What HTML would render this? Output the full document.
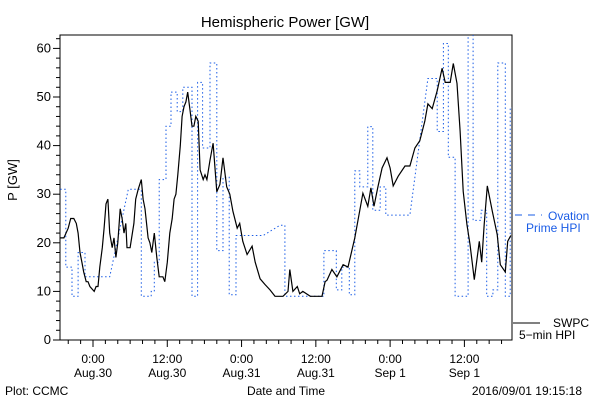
<!DOCTYPE html>
<html><head><meta charset="utf-8"><style>
html,body{margin:0;padding:0;background:#fff;}
svg{display:block;font-family:"Liberation Sans",sans-serif;}
</style></head><body>
<svg id="chart" width="600" height="400" viewBox="0 0 600 400" xmlns="http://www.w3.org/2000/svg">
<rect width="600" height="400" fill="#fff"/>
<text x="285" y="27" font-size="15" text-anchor="middle">Hemispheric Power [GW]</text>
<text x="0" y="0" font-size="13" text-anchor="middle" transform="translate(17,180) rotate(-90)">P [GW]</text>
<text x="286" y="395" font-size="12" text-anchor="middle">Date and Time</text>
<text x="5" y="395" font-size="12">Plot: CCMC</text>
<text x="582" y="395" font-size="12" text-anchor="end">2016/09/01 19:15:18</text>
<g>
<line x1="515" y1="215" x2="542" y2="215" stroke="#1a5ce6" stroke-width="1" stroke-dasharray="7,6"/>
<text x="548" y="220" font-size="12" fill="#1a5ce6">Ovation</text>
<text x="526" y="232" font-size="12" fill="#1a5ce6">Prime HPI</text>
</g>
<g>
<line x1="513" y1="323" x2="540" y2="323" stroke="#000" stroke-width="1"/>
<text x="553" y="327" font-size="12">SWPC</text>
<text x="519" y="339" font-size="12">5−min HPI</text>
</g>
<g id="axes"></g>
<g id="series"></g>
</svg>
<script>
const yTicks = [0,10,20,30,40,50,60];
const xTickHours = [0,12,24,36,48,60];
const xTickTimes = ["0:00","12:00","0:00","12:00","0:00","12:00"];
const xTickDates = ["Aug.30","Aug.30","Aug.31","Aug.31","Sep 1","Sep 1"];
const swpcHours = [-5.3,-4.7,-4.0,-3.6,-3.1,-2.7,-2.4,-2.1,-1.8,-1.5,-1.1,-0.8,-0.5,0.2,0.5,0.8,1.1,1.5,1.8,2.1,2.4,2.7,3.1,3.4,3.7,4.0,4.4,4.7,5.0,5.3,5.5,6.0,6.6,6.9,7.3,7.8,8.1,8.4,8.9,9.2,9.5,9.9,10.3,10.7,11.3,11.6,12.0,12.4,12.8,13.1,13.4,13.7,14.1,14.4,14.7,15.0,15.3,15.7,16.0,16.3,16.6,17.0,17.3,17.8,18.1,18.4,18.9,19.4,20.0,20.5,21.0,21.6,22.1,22.6,23.3,23.7,24.2,24.9,25.7,26.2,27.0,27.8,28.6,29.4,30.7,31.5,31.8,32.3,33.0,33.4,33.9,35.1,37.0,37.5,37.8,38.6,39.4,40.4,41.2,42.3,43.6,44.4,44.9,45.4,46.0,46.7,47.5,48.0,48.5,49.3,50.4,51.2,52.0,52.8,53.6,54.1,54.8,55.6,56.4,56.9,57.7,58.2,58.8,59.3,59.8,60.4,60.9,61.6,62.4,62.8,63.2,63.7,64.5,65.3,65.8,66.6,67.0,67.5];
const swpcValues = [21,21,23,25,25,24,22,18,16,14,12,12,11,10,11,11,15,19,23,28,29,22,19,21,17,20,27,25,22,24,19,19,24,29,31,33,29,27,21,20,18,22,17,13,13,12,16,22,25,29,30,34,40,46,48,49,51,47,44,44,46,45,35,33,34,33,37,40.5,30.5,32,37.5,31.5,30,26.5,23,24,20.3,17.6,19.3,16,12.6,11.4,10.3,9,9,10,14.5,10,11,9.5,10,9,9,12,12.3,14.5,13,15.5,15,21,30.2,27.5,31.3,27.5,31.3,35.4,37.5,35.4,31.7,33.7,35.8,35.8,39.5,41,45,48.6,47.6,51.3,55.9,53,53,56.9,52.8,43,30.6,23.8,19.7,12.4,20.3,16,23.8,31.7,26.5,21.7,15.5,14,20.3,21.5];
const ovationHours = [-5.3,-4.4,-4.4,-3.4,-3.4,-2.4,-2.4,-1.3,-1.3,2.7,5.7,5.7,7.8,7.8,9.4,9.4,9.9,9.9,10.7,10.7,11.8,11.8,12.6,12.6,13.6,13.6,14.5,14.5,16.0,16.0,16.9,16.9,17.7,17.7,18.9,18.9,20.0,20.0,21.0,21.0,22.0,22.0,23.1,23.1,27.5,30.2,31.0,31.0,37.3,37.3,39.3,39.3,40.2,40.2,41.4,41.4,42.3,42.3,43.1,43.1,44.4,44.4,45.2,45.2,46.4,46.4,47.3,47.3,51.2,54.1,55.6,55.6,56.6,56.6,57.4,57.4,58.5,58.5,60.6,60.6,61.4,61.4,62.7,62.7,63.6,63.6,64.6,64.6,65.4,65.4,66.6,66.6,67.4,67.4,67.8];
const ovationValues = [31,31,15,15,9,9,18,18,13,13,31,31,31,9,9,10,10,16,16,33,33,44,44,51,51,47,47,52,52,9,9,53,53,39.5,39.5,57,57,18.4,18.4,33.5,33.5,9.3,9.3,21.5,21.5,23.6,23.6,9,9,18.4,18.4,10.3,10.3,15,15,9.3,9.3,34.8,34.8,31.5,31.5,43.9,43.9,26.7,26.7,31.5,31.5,25.7,25.7,53.8,53.8,42.9,42.9,61,61,37.6,37.6,9,9,66,66,24.6,24.6,26.7,26.7,9,9,10.3,10.3,57,57,9,9,47.8,47.8];

const L=60,R=512,T=35,B=340;
const xOf = h => 93 + 6.19*h;
const yOf = v => B - 4.86*v;
const NS="http://www.w3.org/2000/svg";
const svg=document.getElementById('chart');
const axes=document.getElementById('axes');
const series=document.getElementById('series');
function mk(tag, attrs, parent){const e=document.createElementNS(NS,tag);for(const k in attrs)e.setAttribute(k,attrs[k]);parent.appendChild(e);return e;}

// clip
const defs=mk('defs',{},svg);
const cp=mk('clipPath',{id:'plotclip'},defs);
mk('rect',{x:L,y:T,width:R-L,height:B-T},cp);

const frame=mk('rect',{x:L,y:T,width:R-L,height:B-T,fill:'none',stroke:'#000','stroke-width':1},axes);



// y minor ticks
for(let v=0; v<=62; v+=2){
  const y=yOf(v);
  const major = v%10===0;
  const t=mk('line',{x1:L-(major?7:4),y1:y,x2:L,y2:y,stroke:'#000','stroke-width':1},axes);
  
  
}
yTicks.forEach(v=>{
  const t=mk('text',{x:L-9,y:yOf(v)+4,'font-size':13,'text-anchor':'end'},axes);
  t.textContent=v;
  
  
});
// x ticks every 2h
for(let h=-4; h<=66; h+=2){
  const x=xOf(h);
  if(x<L||x>R) continue;
  const major = h%12===0;
  const t=mk('line',{x1:x,y1:B,x2:x,y2:B+(major?7:4),stroke:'#000','stroke-width':1},axes);
  
  
}
xTickHours.forEach((h,i)=>{
  const a=mk('text',{x:xOf(h),y:363,'font-size':12,'text-anchor':'middle'},axes);
  a.textContent=xTickTimes[i];
  
  
  const b=mk('text',{x:xOf(h),y:377,'font-size':12,'text-anchor':'middle'},axes);
  b.textContent=xTickDates[i];
  
  
});

const g=mk('g',{'clip-path':'url(#plotclip)'},series);
const ov=mk('polyline',{points:ovationHours.map((h,i)=>xOf(h).toFixed(1)+','+yOf(ovationValues[i]).toFixed(1)).join(' '),fill:'none',stroke:'#1a5ce6','stroke-width':1,'stroke-dasharray':'1.5,2.5'},g);


const sw=mk('polyline',{points:swpcHours.map((h,i)=>xOf(h).toFixed(1)+','+yOf(swpcValues[i]).toFixed(1)).join(' '),fill:'none',stroke:'#000','stroke-width':1.2},g);


</script>
</body></html>
